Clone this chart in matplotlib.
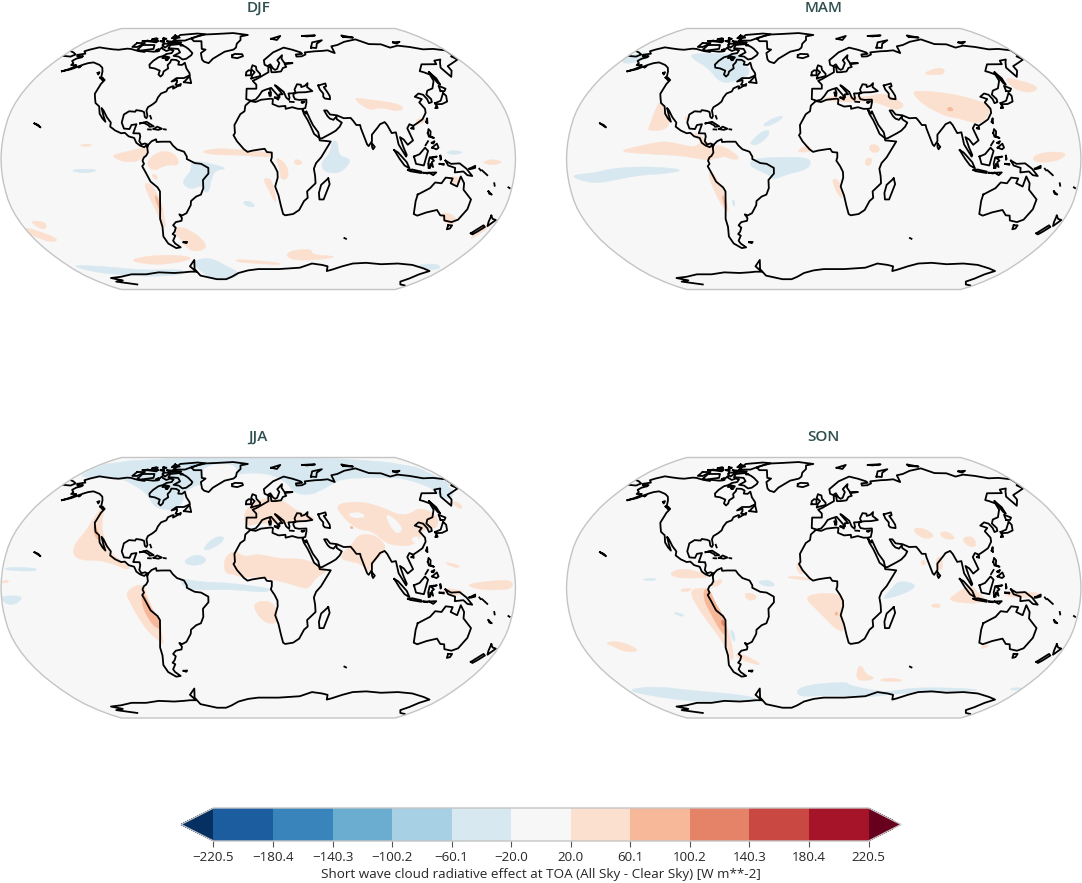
import numpy as np
import matplotlib
matplotlib.use('Agg')
import matplotlib.pyplot as plt
from matplotlib.cm import ScalarMappable
from matplotlib.colors import BoundaryNorm
from matplotlib.patches import Polygon

plt.rcParams['font.family'] = ['Open Sans', 'DejaVu Sans']

LEVELS = [-220.5, -180.4, -140.3, -100.2, -60.1, -20.0, 20.0, 60.1, 100.2, 140.3, 180.4, 220.5]
SEASONS = ['DJF', 'MAM', 'JJA', 'SON']
CBAR_LABEL = 'Short wave cloud radiative effect at TOA (All Sky - Clear Sky) [W m**-2]'

# Robinson table, every 5 degrees of latitude
ROB_LAT = np.arange(0, 95, 5)
ROB_X = [1.0, 0.9986, 0.9954, 0.99, 0.9822, 0.973, 0.96, 0.9427, 0.9216, 0.8962, 0.8679, 0.835,
         0.7986, 0.7597, 0.7186, 0.6732, 0.6213, 0.5722, 0.5322]
ROB_Y = [0.0, 0.062, 0.124, 0.186, 0.248, 0.31, 0.372, 0.434, 0.4958, 0.5571, 0.6176, 0.6769,
         0.7346, 0.7903, 0.8435, 0.8936, 0.9394, 0.9761, 1.0]

# Coastlines, (lon, lat)
NORTH_AMERICA = [(-164, 54.6), (-160, 56), (-157.7, 57.6), (-157.5, 58.7), (-162, 58.7), (-162, 60), (-165.5, 61.5),
                 (-164.5, 63), (-161, 64), (-161, 64.8), (-166, 64.6), (-168, 65.7), (-163, 66.5), (-162, 66.6),
                 (-166, 68.3), (-163, 69.5), (-157, 71.2), (-150, 70.5), (-141, 69.7), (-135, 69.4), (-128, 70.2),
                 (-124, 70), (-115, 68.5), (-108, 67.8), (-108, 68.6), (-100, 68), (-96, 68.2), (-95, 71.5), (-93, 70),
                 (-88, 68.5), (-85.5, 69.5), (-81.5, 69), (-81.5, 67), (-86, 66.3), (-87, 65), (-91, 64), (-93.5, 61.5),
                 (-94.5, 59), (-92.5, 57), (-88, 56.5), (-82.5, 55), (-82, 52.5), (-79.5, 51.2), (-78.5, 52.5),
                 (-79, 54.5), (-76.5, 56.5), (-78.5, 58.7), (-77.5, 60.5), (-78, 62.4), (-73.5, 62.2), (-70, 61),
                 (-69.5, 59), (-66, 58.8), (-64.5, 60.3), (-61, 56.5), (-57, 53.5), (-56, 52), (-60, 50.2), (-66, 50.2),
                 (-69, 48), (-65, 49), (-64.5, 47.5), (-65, 46), (-61, 45.3), (-61, 46.5), (-64, 44.5), (-66, 43.5),
                 (-66, 45), (-67, 45), (-70, 43.7), (-70.5, 41.8), (-74, 40.5), (-75.5, 38), (-76, 35.5), (-78, 33.8),
                 (-81, 32), (-81.5, 30), (-80, 26.5), (-80.5, 25.2), (-81.8, 26), (-83, 29), (-85, 29.7), (-89, 30.2),
                 (-89.5, 29.2), (-94, 29.5), (-97.3, 27.5), (-97.7, 22.5), (-95.5, 18.8), (-91.5, 18.5), (-90.5, 21),
                 (-87, 21.5), (-87.8, 18.3), (-88.5, 15.9), (-84, 15.8), (-83.3, 14), (-83.7, 11), (-82, 9), (-79.5, 9.6),
                 (-77.4, 8.7), (-77.9, 7.2), (-78.5, 8.5), (-80, 7.3), (-83, 8.3), (-85.7, 10), (-87.5, 13), (-91.5, 14),
                 (-94.5, 16.2), (-97, 15.9), (-101.5, 17.6), (-105.5, 20), (-105.5, 22.5), (-109, 25.7), (-112.8, 30),
                 (-114.8, 31.5), (-112, 27), (-109.5, 23), (-112, 25), (-115, 28), (-117, 32.5), (-120.6, 34.6),
                 (-122.5, 37.5), (-124.3, 40.3), (-124, 46.5), (-123, 49), (-127.5, 51), (-130, 54.5), (-133, 57),
                 (-137.5, 58.8), (-145, 60.5), (-149, 60), (-152, 59), (-154, 58), (-158, 56)]
SOUTH_AMERICA = [(-77.4, 8.7), (-75, 11), (-72, 12.2), (-71.5, 10.5), (-68, 10.7), (-62, 10.7), (-60, 8.4), (-57, 6),
                 (-52, 4.5), (-50, 1.5), (-50, 0), (-44.5, -2.5), (-40, -3), (-35, -5.5), (-35, -9), (-39, -13), (-39, -18),
                 (-41, -22), (-44.5, -23.2), (-48.5, -26), (-49, -28.5), (-53, -33.5), (-56.5, -34.9), (-58.4, -34.2),
                 (-57, -36.5), (-57.8, -38.2), (-62.3, -39), (-65, -41), (-63.5, -42.5), (-65.3, -45), (-67.5, -46.5),
                 (-65.8, -47.5), (-69, -50.7), (-68.3, -52.5), (-65, -55), (-69, -55.5), (-74, -52.5), (-75.5, -48),
                 (-73.5, -42), (-73.5, -37), (-71.5, -30), (-70, -20), (-71.5, -17.5), (-76, -14), (-79.5, -7.5),
                 (-81.3, -4.5), (-80, -3), (-81, -1), (-80, 1), (-78.5, 2), (-77.3, 4), (-77.9, 7.2)]
GREENLAND = [(-73, 78.2), (-68, 76), (-60, 76), (-55, 70), (-51, 69.5), (-54, 67), (-50.5, 62.5), (-48, 61), (-43.5, 60),
             (-41, 63), (-36, 65.8), (-32, 68), (-24, 69.5), (-22, 71), (-22, 74), (-19, 77), (-20, 80), (-12, 81.5),
             (-30, 83.5), (-50, 82.5), (-62, 82), (-68, 80.5)]
AFRICA = [(-5.9, 35.8), (-9.5, 33), (-10, 29.5), (-13, 27.7), (-17, 21), (-16.5, 16), (-17.5, 14.7), (-15, 11), (-13, 9),
          (-10, 6), (-7.5, 4.4), (-4, 5.2), (1, 5.9), (4.5, 6.3), (6, 4.3), (9.5, 4), (9.5, 1), (8.8, -1), (11.5, -4.5),
          (13.5, -8), (13.7, -11.5), (12, -17), (14.5, -22.5), (16.5, -29), (18.4, -34), (20, -34.8), (25.8, -34),
          (30, -31.5), (33, -26), (35.5, -24), (34.8, -20), (40.5, -15), (40, -10.5), (39, -6), (40.5, -2.5), (44, 1),
          (51, 10.8), (47, 11.2), (43.3, 11.5), (43, 13), (39.5, 15.5), (37, 21), (35.5, 24), (33, 28), (32.5, 30),
          (32.5, 31), (29, 31), (25, 32), (20, 31), (20, 32.8), (15, 32.4), (10.5, 34), (11, 37), (9.5, 37.3), (2, 36.6),
          (-2, 35.2)]
EURASIA = [(32.5, 30), (34.5, 28), (35, 29.5), (37, 25), (39, 21), (42.5, 16.5), (43.3, 12.7), (45, 12.8), (52, 16),
           (55, 17.5), (58, 20), (59.8, 22.5), (56.5, 24.5), (56.3, 26.2), (54, 24.2), (51.5, 25), (50, 26.5), (48, 30),
           (50, 30), (52, 27.5), (56.8, 27), (61.5, 25.2), (66.5, 25.4), (68, 23.7), (70, 21), (72.7, 21), (73, 19),
           (74.5, 14.5), (76.5, 9), (77.5, 8), (80, 11), (80.3, 15), (85, 19.5), (87, 21.5), (90.5, 22.8), (92, 21),
           (94.5, 16), (97.5, 16.5), (98.6, 9), (100.5, 6), (103.5, 1.5), (104, 2.5), (102, 7), (100, 13.5), (102.5, 12),
           (105, 8.8), (109, 11.5), (106, 19), (108, 21.5), (110.5, 20.5), (114, 22.3), (118, 24.5), (121.5, 28.5),
           (122, 31), (119.5, 35), (122.5, 37), (118, 38.5), (122, 40.5), (125, 39.7), (126.5, 37), (126.5, 34.5),
           (129, 35.2), (129.5, 37), (127.5, 39.8), (130, 42.3), (135, 43.7), (140, 48.5), (141, 52.5), (137.5, 54),
           (135, 54.7), (142, 59.2), (155, 59.3), (156.8, 61.7), (163.5, 62.5), (160, 60.5), (155.5, 57), (156.8, 51),
           (162, 55), (163, 58), (170, 60), (179, 62.5), (177, 64.7), (180, 65), (180, 69), (170, 70), (160, 69.7),
           (150, 71.5), (140, 72.5), (130, 71), (125, 73.5), (113, 73.7), (105, 77.5), (90, 75.5), (80, 73), (73, 72),
           (72, 67), (68, 68.5), (67, 69), (60, 68.5), (54, 68.3), (44, 67.5), (44, 66), (40, 64.7), (35, 64.5), (35, 66),
           (41, 66.5), (40, 67.5), (33, 69.4), (25, 71), (14, 67.5), (5, 62), (5.5, 58.9), (8, 58), (10.5, 59.2),
           (12.5, 56.5), (14.2, 55.5), (16, 56.2), (18.5, 60), (17, 62), (22, 65.5), (21, 63), (23, 60), (30, 60),
           (23, 59.3), (24, 57.5), (21, 56.8), (19, 54.5), (14, 54), (11, 54), (10.5, 57.6), (8.5, 57), (8.5, 54), (4, 52),
           (1.5, 50.8), (-1.5, 49.5), (-4.5, 48.5), (-1.5, 46), (-1.5, 43.5), (-9, 43.5), (-9, 37), (-6, 36.2),
           (-5.3, 36), (-2, 36.7), (0.5, 39), (3, 42), (6, 43), (10, 44), (12, 42), (16, 38), (16, 40), (18.5, 40),
           (13, 45.7), (14.5, 45), (19.5, 41.5), (21, 38), (23, 36.5), (23.5, 38), (23, 40.5), (26, 40.6), (28.5, 41),
           (28, 43), (30.5, 46.3), (33.5, 46), (33.5, 44.5), (36.5, 45.3), (39, 47), (38, 44.5), (41.5, 42), (36, 41.3),
           (31, 41.2), (29, 41), (27, 40.3), (26.5, 39), (27.5, 37), (30.5, 36.5), (36, 36.7), (35.8, 35), (34.5, 31.5),
           (32.5, 31)]
AUSTRALIA = [(114, -22), (113.5, -26), (115, -34), (118, -35), (124, -33), (131, -31.5), (135, -34.8), (138, -35),
             (140, -38), (146, -39), (150, -37.5), (153, -31), (153, -25), (146, -19), (145.5, -15), (142.5, -10.8),
             (141, -17), (136, -15), (137, -12), (132, -11.5), (129.5, -15), (125, -14.5), (122, -18)]
ANTARCTICA = [(176, -84), (168, -83), (160, -80), (163, -77.5), (165, -74), (170, -71.5), (160, -69.5), (145, -67),
              (130, -66), (115, -66.5), (100, -65.5), (88, -66), (80, -68), (72, -70.5), (68, -71.5), (66, -68), (60, -67),
              (50, -66), (40, -69), (30, -69.5), (20, -70), (10, -70), (0, -70), (-10, -71), (-20, -73), (-28, -76),
              (-35, -78), (-45, -78), (-60, -75), (-62, -70), (-58, -63.5), (-65, -68), (-62, -72), (-68, -72), (-75, -72.5),
              (-85, -73), (-100, -72.5), (-115, -74), (-130, -74), (-145, -76), (-158, -77), (-150, -79), (-160, -80),
              (-143, -83)]
CHUKOTKA = [(-180, 65), (-172, 64.5), (-170, 66), (-175, 67.5), (-180, 68.5)]
ISLANDS = [
    [(-80, 73.7), (-72, 71.5), (-68, 70), (-62, 67), (-62, 65.5), (-65, 63), (-68, 62.5), (-73, 64.5), (-78, 65), (-74, 67.5), (-78, 70), (-88, 70.5), (-89, 73)],
    [(-117, 73), (-105, 73), (-102, 70), (-113, 68.8), (-117, 69.5)],
    [(-125, 74.5), (-117, 74.5), (-120, 71.5), (-125, 71.5)],
    [(-90, 76.5), (-78, 76.5), (-72, 79), (-62, 82.3), (-72, 83), (-90, 81.5)],
    [(-96, 76), (-80, 75), (-80, 74.5), (-92, 74.5)],
    [(-117, 76), (-106, 75), (-106, 76.3)],
    [(-95, 81), (-87, 79), (-95, 78.5)],
    [(-87, 65), (-81, 64), (-81, 63.5), (-87, 63.5)],
    [(-97, 74), (-90, 74), (-92, 71), (-97, 73)],
    [(-103, 76), (-98, 75), (-100, 76.5)],
    [(-122, 76), (-117, 76.5), (-119, 75.5)],
    [(-104, 78.5), (-100, 78), (-103, 77.5)],
    [(-110, 78), (-112, 78.5), (-115, 77.5)],
    [(-98, 69), (-95, 68.5), (-97, 70)],
    [(-80, 73.7), (-76, 72.8), (-78, 72.5)],
    [(-83, 62.5), (-81, 62.5), (-82, 62)],
    [(-128, 50.5), (-124, 48.5), (-125, 50)],
    [(-154, 57.5), (-152.5, 58), (-153, 57)],
    [(-133, 53.5), (-131.5, 52.5), (-132, 54)],
    [(-59, 47.6), (-56, 51.5), (-53, 47)],
    [(-84.5, 22), (-80, 23), (-74.5, 20.2), (-77.5, 19.9), (-78, 20.7), (-82, 22.4)],
    [(-74.4, 18.5), (-72, 20), (-68.5, 18.7), (-71, 18)],
    [(-78.3, 18.3), (-76.3, 18.2)],
    [(-67, 18.4), (-65.7, 18.2)],
    [(-78, 26.6), (-77, 25)],
    [(-24, 65.5), (-22, 66.4), (-15, 66.2), (-14, 64.8), (-19, 63.4), (-24, 64)],
    [(-5.5, 50), (1.5, 51.5), (1.5, 53), (-1.5, 55.5), (-2, 57.7), (-5, 58.6), (-6, 56), (-3, 54), (-5, 52)],
    [(-10, 52), (-6, 52), (-6, 55), (-8, 55.3), (-10, 54)],
    [(47, 45.5), (53, 46.8), (53, 45), (51, 44.5), (52.8, 41.5), (54, 39), (53.8, 36.9), (50, 37.4), (49, 38.5), (49.5, 40.5), (47.5, 43)],
    [(14, 78), (25, 80.5), (20, 77)],
    [(50, 80.5), (60, 81), (65, 81), (55, 80)],
    [(52, 71), (57, 70.7), (60, 74), (68, 76.8), (56, 75)],
    [(95, 79.5), (105, 79), (95, 81)],
    [(140, 75), (148, 75.5), (142, 74)],
    [(8.3, 41), (9.7, 41), (9.5, 39), (8.5, 39)],
    [(9, 43), (9.5, 41.5)],
    [(12.5, 38), (15.5, 38.2), (15, 36.7)],
    [(23.5, 35.4), (26.3, 35.2)],
    [(32.3, 35), (34.5, 35.5), (33, 34.6)],
    [(142, 54), (143.5, 50), (143, 46), (142, 47)],
    [(140, 42), (141, 45.3), (145, 43.5), (143, 42)],
    [(131, 34.5), (136, 36), (140, 40), (141, 41), (142, 39), (140.5, 35.5), (136, 34), (131, 33.8)],
    [(130, 31.5), (131.5, 33.5), (131.5, 31.5)],
    [(120.3, 23), (121.5, 25.2), (121, 22)],
    [(109, 19), (110.5, 20), (110.5, 18.5)],
    [(120, 16), (121, 18.5), (122.2, 17), (121.5, 14), (124, 13), (120.5, 13.8)],
    [(122, 7), (125.5, 9.5), (126.5, 7), (125, 6)],
    [(117.5, 8.5), (119.5, 11)],
    [(122, 10), (124, 11), (123, 9.5)],
    [(80, 9.5), (81.8, 7.5), (80.5, 6), (79.8, 7.5)],
    [(95.3, 5.5), (98, 4), (104, -2), (106, -5.8), (102.5, -4), (99, 0)],
    [(105, -6.8), (108, -6.5), (114.5, -7.8), (114.5, -8.7), (106.5, -7.5)],
    [(109, 1.5), (113, 3), (117, 7), (119, 5), (117.5, 1), (116, -4), (110.5, -3)],
    [(119.5, -5.5), (119, -3), (120, 1), (125, 1.5), (121, 0.5), (123, -1), (121.5, -2), (122.5, -5), (120.5, -3), (120.5, -5.5)],
    [(131, -1), (135, -3), (141, -2.7), (146, -6), (150.5, -10.5), (147, -10), (144, -7.7), (138, -8.3), (138, -5.5), (133, -4)],
    [(148, -6), (152, -4.2), (152, -5.5), (149, -6.2)],
    [(116, -8.5), (119, -8.5), (119, -9)],
    [(120, -8.5), (125, -8.3), (123, -10)],
    [(127, -3), (130, -3), (130, -3.6)],
    [(127.5, 2), (128, 0), (127.5, -0.5)],
    [(155, -6), (156, -7)],
    [(157, -7), (161, -10)],
    [(166.8, -15), (167.5, -16.5)],
    [(164, -20), (167, -22), (165, -21.5)],
    [(177.5, -17.5), (178.5, -18)],
    [(49.3, -12), (50.5, -15.5), (47, -25), (44, -25), (43.3, -21), (44.5, -16)],
    [(145, -41), (148, -41), (148, -43), (146, -43.5)],
    [(167, -46), (172, -41), (174, -42), (171, -45), (169, -46.7)],
    [(173, -35), (175.5, -37), (178.5, -37.7), (175.5, -41.5), (174, -39)],
    [(69, -49), (70.5, -49.5)],
    [(-61, -51.7), (-58, -51.5), (-59, -52.3)],
    [(-160, 22), (-157, 21), (-155, 19.5)],
]

# Anomaly areas per season: (value in W m-2, outline in lon, lat)
DJF_AREAS = [
    (40, [(-103, 2), (-95, 4), (-85, 6), (-78, 7.5), (-78, 3), (-83, -1), (-90, -2), (-97, -1)]),
    (40, [(-126, 8.5), (-120, 9.5), (-116, 8.5), (-121, 7.5)]),
    (40, [(-78, -2), (-74, 2), (-68, 5), (-60, 4), (-56, 0), (-56, -4), (-62, -3.5), (-68, -5), (-72, -7), (-76, -6)]),
    (40, [(-75, -9), (-71, -10), (-71, -13), (-74, -12)]),
    (40, [(-81, -15), (-76, -15), (-72, -22), (-70, -28), (-70, -35), (-71, -42), (-73, -42), (-75, -32), (-78, -24)]),
    (80, [(-74.5, -22), (-72, -24), (-70.5, -33), (-73, -30)]),
    (-40, [(-47, -1), (-38, -2), (-28, -4), (-22, -6), (-30, -7), (-33, -12), (-35, -20), (-38, -21), (-40, -16), (-48, -19), (-54, -15), (-50, -10), (-47, -7)]),
    (-40, [(-133, -7), (-120, -6), (-112, -7), (-122, -9)]),
    (-40, [(-12, -27), (-7, -25.5), (-1.5, -29), (-6, -30)]),
    (40, [(-41, 4.5), (-30, 6.5), (-15, 6), (0, 4.5), (9, 4), (9, 1), (0, 1.5), (-15, 2.5), (-30, 2.5)]),
    (40, [(3, -12), (8, -12), (10, -15), (13, -25), (12, -27), (8, -20)]),
    (40, [(12, 1), (17, -1), (21, -6), (21, -12), (16, -13), (15, -6)]),
    (40, [(25, 0), (30, -1), (31, -3), (26, -4)]),
    (40, [(-65, -43), (-58, -42), (-50, -46), (-45, -50), (-43, -55), (-52, -58), (-60, -56), (-62, -50), (-66, -46)]),
    (40, [(-118, -64), (-100, -61), (-80, -60), (-62, -61), (-60, -63), (-80, -66), (-100, -67)]),
    (-40, [(-176, -67), (-150, -68), (-110, -71), (-75, -70), (-75, -74), (-110, -76), (-150, -74), (-170, -71)]),
    (-40, [(-62, -66), (-50, -62), (-40, -63), (-30, -68), (-18, -73), (-28, -78), (-50, -79), (-55, -73)]),
    (40, [(-172, -38), (-160, -39), (-165, -44), (-170, -42)]),
    (40, [(-180, -42), (-170, -45), (-160, -50), (-170, -52), (-180, -47)]),
    (40, [(72, 38), (80, 37), (90, 36), (104, 34), (107, 31), (100, 29.5), (90, 32), (82, 30), (75, 34)]),
    (-40, [(52, 11), (56, 11), (56, 2), (65, 0), (62, -5), (56, -9), (46, -8), (44, -2), (50, 3)]),
    (-40, [(130.5, 4), (137, 5.5), (144.5, 4), (137, 2.5)]),
    (40, [(156, -2), (164, 0), (172, -2), (164, -4)]),
    (40, [(134, -11), (142, -11), (141, -16), (137, -17)]),
    (40, [(135, -33), (143, -34), (150, -38), (147, -41), (140, -39)]),
    (40, [(172, -43), (178, -38), (176, -45), (170, -51)]),
    (40, [(24, -61), (28, -57), (45, -56), (47, -60), (70, -61), (60, -63), (35, -64)]),
    (40, [(-20, -63), (0, -64), (20, -65.5), (20, -67), (0, -66), (-20, -65)]),
    (-40, [(150, -67), (165, -66), (177, -69), (170, -71), (155, -69)]),
    (40, [(113, 24), (120, 26), (120, 23), (113, 21)]),
]
MAM_AREAS = [
    (40, [(-122, 36), (-119, 34), (-113, 27), (-110, 22), (-113, 18), (-125, 17), (-124, 22), (-123, 30)]),
    (40, [(-146, 4.5), (-125, 9), (-112, 11), (-103, 9.5), (-90, 7), (-85, 12), (-78, 8), (-76, 2), (-78, -1), (-86, 0), (-100, 2), (-120, 3)]),
    (-40, [(-178, -10), (-160, -8.5), (-150, -6), (-125, -4.5), (-97, -6.5), (-110, -9), (-130, -10), (-150, -13.5), (-162, -15), (-172, -13)]),
    (40, [(-77, 9), (-68, 7), (-58, 0.5), (-64, -0.5), (-70, 2), (-75, 0), (-78, 1)]),
    (40, [(-81, -8), (-78, -8), (-72, -18), (-70, -27), (-70, -33), (-73, -31), (-77, -22), (-80, -14)]),
    (80, [(-73, -22), (-71, -24), (-70.5, -31), (-72.5, -28)]),
    (-40, [(-66, -25), (-64, -26), (-65, -30), (-66, -28)]),
    (-40, [(-50, 0), (-35, 1), (-10, 1), (-9, -4), (-14, -7), (-24, -9), (-36, -13), (-38, -10), (-46, -7), (-52, -4)]),
    (-40, [(-50, 12), (-44, 17), (-38, 18), (-40, 13), (-47, 8.5), (-52, 9)]),
    (-40, [(-44, 21), (-37, 25), (-29, 27), (-31, 24), (-40, 20)]),
    (-40, [(-125, 66), (-110, 67), (-95, 66), (-80, 67), (-70, 61), (-60, 53), (-68, 49), (-77, 47), (-85, 49), (-95, 55), (-105, 59), (-115, 62)]),
    (-40, [(-180, 64), (-170, 68), (-160, 65), (-165, 60), (-178, 60)]),
    (40, [(-100, 26), (-97, 27), (-96, 24), (-100, 24)]),
    (40, [(-92, 17), (-85, 13), (-80, 8), (-84, 9), (-90, 13)]),
    (40, [(-19, 5), (-11, 9), (-8, 5), (-15, 4)]),
    (40, [(31, 8), (37, 9.5), (40, 5), (34, 3.5)]),
    (40, [(29, 0), (34, 1), (33, -4), (29, -4)]),
    (40, [(5.5, -13), (9, -12), (12, -16), (14, -25), (10, -22)]),
    (40, [(0, 38), (15, 39), (32, 38), (45, 41), (55, 37), (60, 33), (53, 30), (45, 33), (35, 36), (20, 35), (2, 36)]),
    (40, [(67, 42), (78, 42), (90, 41), (98, 40), (108, 38), (118, 35), (124, 33), (118, 26), (112, 22), (104, 23), (98, 25), (90, 26), (80, 30), (72, 35)]),
    (80, [(90, 31), (93, 32.5), (95, 30), (91, 29.5)]),
    (40, [(82, 53), (92, 56), (102, 57), (100, 53), (90, 52)]),
    (40, [(146, 50), (152, 50), (168, 45), (160, 41), (150, 42), (146, 46)]),
    (40, [(145, 1), (155, 4.5), (171, 4), (165, -1), (150, -2.5)]),
]
JJA_AREAS = [
    (-40, [(-180, 90), (180, 90), (180, 66), (170, 63), (158, 58), (155, 64), (140, 70), (120, 70), (100, 70), (80, 69), (70, 66), (58, 62), (45, 58), (32, 59), (27, 66), (20, 70), (10, 73), (-10, 74), (-25, 72), (-45, 62), (-55, 66), (-65, 60), (-62, 53), (-68, 48), (-78, 49), (-85, 51), (-95, 58), (-105, 62), (-115, 65), (-130, 69), (-145, 70), (-165, 70), (-180, 72)]),
    (0, [(-52, 64), (-45, 61), (-30, 68), (-22, 72), (-25, 80), (-45, 82), (-60, 78), (-55, 70)]),
    (-80, [(-80, 80), (-62, 82.5), (-60, 80.5), (-72, 79)]),
    (-40, [(155, 64), (176, 64), (168, 58), (160, 55), (155, 58)]),
    (40, [(-126, 52), (-124, 50), (-118, 38), (-112, 30), (-108, 24), (-103, 20), (-90, 13), (-92, 11), (-100, 14), (-112, 17), (-125, 17), (-132, 20), (-133, 27), (-128, 35), (-127, 45)]),
    (80, [(-124, 40), (-120, 36), (-115, 30), (-118, 30), (-123, 36)]),
    (40, [(-93, -3), (-85, 2), (-80, 1), (-78, -5), (-74, -14), (-70, -20), (-70, -30), (-70, -35), (-73, -33), (-80, -27), (-87, -15), (-90, -9)]),
    (80, [(-82, -5), (-80, -3), (-74, -16), (-70, -19), (-70, -26), (-75, -24), (-81, -14)]),
    (-40, [(-55, 6), (-40, 3.5), (-20, 3), (5, 0), (9, -1), (5, -3), (-20, -1), (-40, -1.5), (-52, 0)]),
    (40, [(-24, 19), (-17, 23), (-10, 19), (0, 21), (15, 18), (30, 18), (38, 16), (50, 11), (40, 6), (35, -1), (27, 1), (20, 3), (10, 5), (0, 7), (-10, 6), (-16, 8), (-24, 9)]),
    (40, [(58, 18), (62, 23), (68, 27), (74, 33), (85, 33), (92, 27), (90, 22), (82, 16), (78, 9), (72, 15), (66, 16)]),
    (40, [(62, 52), (85, 54), (100, 50), (110, 45), (120, 46), (130, 50), (140, 45), (135, 37), (122, 36), (118, 30), (110, 26), (100, 26), (92, 28), (85, 35), (75, 36), (67, 42)]),
    (0, [(100, 46), (106, 42), (108, 36), (102, 33), (99, 40)]),
    (0, [(70, 46), (80, 47), (84, 44), (74, 43)]),
    (0, [(112, 31), (118, 32), (116, 28), (112, 28)]),
    (80, [(69, 38), (71, 38), (71, 36.5), (69, 36.5)]),
    (40, [(-12, 45), (-6, 52), (5, 56), (20, 55), (30, 48), (40, 45), (45, 42), (30, 40), (15, 40), (0, 40), (-8, 38)]),
    (40, [(-3, -9), (8, -8), (13, -13), (14, -22), (5, -22), (-2, -15)]),
    (-40, [(-180, 11), (-158, 10), (-155, 12), (-175, 13)]),
    (40, [(-180, 4), (-175, 5), (-175, 3), (-180, 3)]),
    (-40, [(-180, -5), (-165, -5), (-168, -9), (-175, -11), (-180, -8)]),
    (-40, [(-40, 24), (-33, 31), (-25, 32), (-26, 28), (-36, 23)]),
    (-40, [(-53, 17), (-44, 21), (-36, 18), (-40, 14), (-50, 14)]),
    (40, [(132, 16), (142, 14), (141, 12), (134, 14)]),
    (40, [(146, 2), (160, 4), (178, 5), (178, -1), (160, -1.5), (150, 0)]),
    (40, [(130, 0), (145, -2), (140, -5), (130, -4)]),
    (40, [(160, 54), (166, 53), (164, 49), (160, 50)]),
]
SON_AREAS = [
    (40, [(-93, -1), (-84, 0), (-80, -1), (-77, -8), (-72, -16), (-70, -22), (-68, -33), (-70, -45), (-73, -44), (-74, -35), (-78, -28), (-85, -18), (-92, -7)]),
    (80, [(-84, -1), (-80, -1), (-76, -10), (-71, -18), (-70, -30), (-74, -28), (-80, -16), (-84, -8)]),
    (120, [(-73, -20), (-71, -20), (-71, -24), (-73, -23)]),
    (40, [(-109, 9), (-100, 12), (-88, 10), (-79, 6.5), (-90, 6), (-103, 6)]),
    (40, [(-78, 3), (-71, 6), (-72, 2), (-78, 0)]),
    (40, [(-100, -1), (-93, 0), (-93, -2), (-100, -2.5)]),
    (-40, [(-127, 5.5), (-117, 6), (-118, 4.5), (-126, 4.5)]),
    (-40, [(-106, -15), (-99, -16.5), (-100, -18), (-105, -16.5)]),
    (40, [(-162, -34), (-150, -33), (-138, -39), (-150, -40), (-158, -36)]),
    (40, [(-67, -41), (-62, -41), (-50, -47), (-52, -48), (-60, -46), (-67, -43)]),
    (40, [(-55, -3), (-48, -4), (-47, -7), (-52, -8), (-55, -6)]),
    (-40, [(-68, -26), (-65, -27), (-65, -33), (-67, -33)]),
    (-40, [(-47, 4), (-38, 5), (-33, 1), (-42, 1)]),
    (-40, [(-178, -64), (-150, -62), (-120, -65), (-90, -67), (-65, -70), (-70, -73), (-100, -73), (-130, -73), (-150, -71), (-175, -67)]),
    (-40, [(-25, -64), (-10, -60.5), (20, -59), (22, -61), (40, -64), (60, -66), (80, -63), (110, -63), (140, -64), (140, -65), (110, -66), (70, -67), (40, -70), (10, -68), (-10, -69), (-24, -69)]),
    (-40, [(170, -63), (180, -63), (180, -64.5), (170, -64.5)]),
    (40, [(27, -50), (30, -48), (35, -54), (43, -56), (40, -58), (28, -58)]),
    (40, [(46, -58), (55, -56), (70, -58), (60, -59)]),
    (40, [(-13, -6), (-5, -3.5), (10, -3.5), (14, -8), (13, -17), (15, -28), (8, -25), (0, -18), (-8, -11)]),
    (80, [(8, -15), (10, -15), (10, -17), (8, -17)]),
    (40, [(-19, 16), (-16, 15), (-14, 9), (-16, 8), (-19, 11)]),
    (40, [(-25, 7), (-15, 7), (-8, 4.5), (-15, 5), (-25, 6)]),
    (-40, [(41, -7), (46, -2), (52, 4), (60, 3.5), (65, 1), (58, -3), (48, -6)]),
    (40, [(86, -8), (95, -2), (103, 2), (108, -3), (115, -8), (105, -10)]),
    (40, [(125, -3), (140, -2), (154, -4), (150, -6), (130, -6)]),
    (40, [(76, -10), (82, -10), (82, -12.5), (76, -12)]),
    (40, [(80, 19), (84, 19), (84, 11), (80, 12)]),
    (40, [(69, 17), (72, 17), (72, 14), (69, 14)]),
    (40, [(67, 37), (75, 37), (82, 32), (75, 30), (68, 33)]),
    (40, [(101, 31), (110, 32), (110, 25), (103, 26)]),
    (40, [(85, 34), (92, 35), (97, 30), (88, 30)]),
    (40, [(118, -36), (123, -35), (122, -37), (118, -38)]),
]
AREAS = {'DJF': DJF_AREAS, 'MAM': MAM_AREAS, 'JJA': JJA_AREAS, 'SON': SON_AREAS}

# Panel rectangles in pixels: left, top, right, bottom
PANELS = {'DJF': (1, 28.5, 515.5, 289.5), 'MAM': (566.5, 28.5, 1081, 289.5),
          'JJA': (1, 457.5, 515.5, 718), 'SON': (566.5, 457.5, 1081, 718)}
W, H = 1082, 883
GREY = '#c4c4c4'


def robinson(points):
    pts = np.asarray(points, dtype=float)
    alat = np.abs(pts[:, 1])
    x = 0.8487 * np.interp(alat, ROB_LAT, ROB_X) * np.radians(pts[:, 0])
    y = 1.3523 * np.interp(alat, ROB_LAT, ROB_Y) * np.sign(pts[:, 1])
    return np.column_stack([x, y])


def round_off(xy, passes=2):
    # corner cutting, the contour edges in the original are soft
    for _ in range(passes):
        nxt = np.roll(xy, -1, axis=0)
        xy = np.column_stack([0.75 * xy + 0.25 * nxt, 0.25 * xy + 0.75 * nxt]).reshape(-1, 2)
    return xy


def pixel_rect(left, top, right, bottom):
    return [left / W, 1 - bottom / H, (right - left) / W, (bottom - top) / H]


cmap = plt.get_cmap('RdBu_r', 13)
norm = BoundaryNorm(LEVELS, ncolors=13, extend='both')

fig = plt.figure(figsize=(W / 100, H / 100), dpi=100)

edge_lat = np.arange(-90, 95, 5)
edge = np.concatenate([robinson(np.column_stack([np.full_like(edge_lat, 180), edge_lat])),
                       robinson(np.column_stack([np.full_like(edge_lat, -180), edge_lat[::-1]]))])

for season in SEASONS:
    ax = fig.add_axes(pixel_rect(*PANELS[season]))
    ax.set_xlim(-0.8487 * np.pi, 0.8487 * np.pi)
    ax.set_ylim(-1.3523, 1.3523)
    ax.axis('off')
    globe = Polygon(edge, closed=True, facecolor=cmap(norm(0)), edgecolor='none', zorder=1)
    ax.add_patch(globe)

    for value, outline in AREAS[season]:
        color = cmap(norm(value))
        patch = Polygon(round_off(robinson(outline)), closed=True, facecolor=color, edgecolor=color, lw=0.3, zorder=2)
        ax.add_patch(patch)
        patch.set_clip_path(globe)

    closed = [NORTH_AMERICA, SOUTH_AMERICA, GREENLAND, AFRICA, EURASIA, AUSTRALIA] + ISLANDS
    for coast in closed:
        xy = robinson(coast + coast[:1] if len(coast) > 2 else coast)
        line, = ax.plot(xy[:, 0], xy[:, 1], color='black', lw=1.3, solid_joinstyle='round', zorder=3)
        line.set_clip_path(globe)
    for coast in [ANTARCTICA, CHUKOTKA]:
        xy = robinson(coast)
        line, = ax.plot(xy[:, 0], xy[:, 1], color='black', lw=1.3, solid_joinstyle='round', zorder=3)
        line.set_clip_path(globe)

    ax.add_patch(Polygon(edge, closed=True, fill=False, edgecolor=GREY, lw=1.0, zorder=4, clip_on=False))
    ax.set_title(season, color='darkslategray', fontsize=11, fontweight='semibold', pad=12)

# colorbar, the axes takes in both end triangles
cax = fig.add_axes(pixel_rect(181, 808, 901, 841))
cb = fig.colorbar(ScalarMappable(norm=norm, cmap=cmap), cax=cax, orientation='horizontal', extend='both',
                  extendfrac=0.0496, spacing='uniform', ticks=LEVELS)
cb.ax.set_xticklabels([f'{v:.1f}'.replace('-', '\u2212') for v in LEVELS])
cb.outline.set_edgecolor(GREY)
cb.outline.set_linewidth(1.0)
cb.ax.tick_params(length=4, width=0.8, color='#555555', labelsize=9.6, labelcolor='#262626', pad=3.5)
cb.set_label(CBAR_LABEL, fontsize=9.7, color='#262626', labelpad=2.5)

fig.savefig('out.png', dpi=100)
